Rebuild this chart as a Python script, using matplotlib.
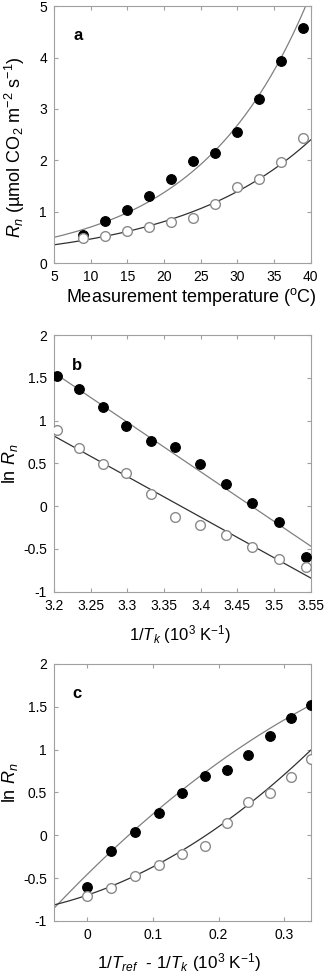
import matplotlib
matplotlib.use('Agg')
import matplotlib.pyplot as plt
import numpy as np
from matplotlib.ticker import FormatStrFormatter

plt.rcParams['font.family'] = ['Liberation Sans', 'DejaVu Sans']
plt.rcParams['mathtext.fontset'] = 'custom'
plt.rcParams['mathtext.rm'] = 'Liberation Sans'
plt.rcParams['mathtext.it'] = 'Liberation Sans:italic'
plt.rcParams['mathtext.bf'] = 'Liberation Sans:bold'
plt.rcParams['axes.unicode_minus'] = False

temp_c = [9, 12, 15, 18, 21, 24, 27, 30, 33, 36, 39]
rn_filled = [0.55, 0.83, 1.04, 1.30, 1.63, 1.99, 2.15, 2.55, 3.19, 3.94, 4.57]
rn_open = [0.49, 0.54, 0.62, 0.71, 0.80, 0.88, 1.15, 1.48, 1.64, 1.97, 2.44]
t_ref = 9  # reference temperature for panel c

# fitted curves, parameters
# a: Rn = r5 * exp(k * (T - 5))
fit_a_filled = (0.505, 0.0668)
fit_a_open = (0.36, 0.0542)
# b: ln Rn = c0 + c1 * (1/Tk - 3.2)
fit_b_filled = (1.56, -5.79)
fit_b_open = (0.82, -4.74)
# c: ln Rn = c0 + c1*x + c2*x^2
fit_c_filled = (-0.46, 7.58, -5.17)
fit_c_open = (-0.70, 2.6, 7.0)

FRAME = '#a0a0a0'
LINE_F = '#808080'
LINE_O = '#303030'
EDGE_O = '#8a8a8a'

t = np.array(temp_c, dtype=float)
tk = t + 273.15
inv_tk = 1000.0 / tk
x_c = 1000.0 / (t_ref + 273.15) - inv_tk
ln_f = np.log(rn_filled)
ln_o = np.log(rn_open)

fig = plt.figure(figsize=(3.26, 9.76), dpi=100)
left, width = 0.1656, 0.7874
ax_a = fig.add_axes([left, 0.7302, width, 0.2636])
ax_b = fig.add_axes([left, 0.3937, width, 0.2630])
ax_c = fig.add_axes([left, 0.0564, width, 0.2633])


def style(ax):
    for s in ax.spines.values():
        s.set_color(FRAME)
        s.set_linewidth(0.8)
    ax.tick_params(direction='in', top=True, right=True, length=3,
                   width=0.8, color=FRAME, labelsize=10, pad=5)
    ax.xaxis.set_major_formatter(FormatStrFormatter('%g'))
    ax.yaxis.set_major_formatter(FormatStrFormatter('%g'))


def points(ax, x, yf, yo):
    ax.plot(x, yf, 'o', ms=7, mfc='black', mec='black', mew=0.8,
            zorder=3)
    ax.plot(x, yo, 'o', ms=7, mfc='white', mec=EDGE_O, mew=1.0,
            zorder=4)


# panel a
style(ax_a)
tt = np.linspace(5, 40, 200)
ax_a.plot(tt, fit_a_filled[0] * np.exp(fit_a_filled[1] * (tt - 5)),
          color=LINE_F, lw=0.9, zorder=2)
ax_a.plot(tt, fit_a_open[0] * np.exp(fit_a_open[1] * (tt - 5)),
          color=LINE_O, lw=0.9, zorder=2)
points(ax_a, t, rn_filled, rn_open)
ax_a.set_xlim(5, 40)
ax_a.set_ylim(0, 5)
ax_a.set_xticks(range(5, 41, 5))
ax_a.set_yticks(range(0, 6))
ax_a.text(0.094, 0.887, 'a', transform=ax_a.transAxes, fontsize=12,
          fontweight='bold', ha='center', va='center')
ax_a.set_xlabel('Measurement temperature ($\\mathregular{^o}$C)',
                fontsize=13, va='center')
ax_a.xaxis.set_label_coords(0.536, -0.131)
ax_a.set_ylabel('$R_n$ (µmol CO$_2$ m$^{-2}$ s$^{-1}$)', fontsize=13,
                va='center')
ax_a.yaxis.set_label_coords(-0.152, 0.452)

# panel b
style(ax_b)
xb = np.linspace(3.2, 3.55, 50)
ax_b.plot(xb, fit_b_filled[0] + fit_b_filled[1] * (xb - 3.2),
          color=LINE_F, lw=0.9, zorder=2)
ax_b.plot(xb, fit_b_open[0] + fit_b_open[1] * (xb - 3.2),
          color=LINE_O, lw=0.9, zorder=2)
points(ax_b, inv_tk, ln_f, ln_o)
ax_b.set_xlim(3.2, 3.55)
ax_b.set_ylim(-1, 2)
ax_b.set_xticks([3.2, 3.25, 3.3, 3.35, 3.4, 3.45, 3.5, 3.55])
ax_b.set_yticks([-1, -0.5, 0, 0.5, 1, 1.5, 2])
ax_b.text(0.09, 0.883, 'b', transform=ax_b.transAxes, fontsize=12,
          fontweight='bold', ha='center', va='center')
ax_b.set_xlabel('1/$T_k$ (10$^3$ K$^{-1}$)', fontsize=12, va='center')
ax_b.xaxis.set_label_coords(0.49, -0.165)
ax_b.set_ylabel('ln $R_n$', fontsize=13, va='center')
ax_b.yaxis.set_label_coords(-0.171, 0.5)

# panel c
style(ax_c)
xc = np.linspace(-0.05, 0.34, 100)
ax_c.plot(xc, fit_c_filled[0] + fit_c_filled[1] * xc + fit_c_filled[2] * xc**2,
          color=LINE_F, lw=0.9, zorder=2)
ax_c.plot(xc, fit_c_open[0] + fit_c_open[1] * xc + fit_c_open[2] * xc**2,
          color=LINE_O, lw=0.9, zorder=2)
points(ax_c, x_c, ln_f, ln_o)
ax_c.set_xlim(-0.05, 0.34)
ax_c.set_ylim(-1, 2)
ax_c.set_xticks([0, 0.1, 0.2, 0.3])
ax_c.set_yticks([-1, -0.5, 0, 0.5, 1, 1.5, 2])
ax_c.text(0.09, 0.887, 'c', transform=ax_c.transAxes, fontsize=12,
          fontweight='bold', ha='center', va='center')
ax_c.set_xlabel('1/$T_{ref}$  - 1/$T_k$ (10$^3$ K$^{-1}$)', fontsize=12.3,
                va='center')
ax_c.xaxis.set_label_coords(0.489, -0.16)
ax_c.set_ylabel('ln $R_n$', fontsize=13, va='center')
ax_c.yaxis.set_label_coords(-0.171, 0.537)

fig.savefig('out.png', dpi=100)
